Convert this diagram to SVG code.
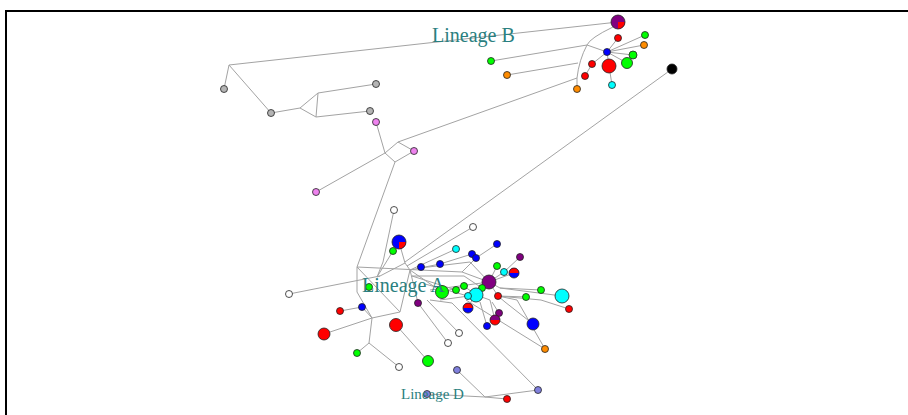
<svg xmlns="http://www.w3.org/2000/svg" width="908" height="415" viewBox="0 0 908 415">
  <style>
    .edge { stroke: #a3a3a3; stroke-width: 1; fill: none; }
    .nd { stroke: #222; stroke-width: 0.8; }
    .ring { fill: none; stroke: #222; stroke-width: 0.8; }
    .lbl { font-family: "Liberation Serif", "DejaVu Serif", serif; fill: #2b7f80; }
    .red { fill: #ff0000; } .grn { fill: #00ff00; } .blu { fill: #0000ff; }
    .cyn { fill: #00ffff; } .pur { fill: #800080; } .org { fill: #ff8c00; }
    .gry { fill: #b4b4b4; } .pnk { fill: #ee82ee; } .lav { fill: #8080dd; }
    .wht { fill: #ffffff; } .blk { fill: #000000; }
  </style>
  <rect width="908" height="415" fill="#ffffff"/>
  <!-- frame -->
  <path d="M6,415 V11 H908" fill="none" stroke="#000" stroke-width="2"/>

  <g id="connectors">
    <!-- lineage B -->
    <path class="edge" d="M618,22 L229,65"/>
    <path class="edge" d="M613,27 Q590,38 587,45 Q579,60 577,78 L577,89"/>
    <path class="edge" d="M491,61 L587,45 L607,52"/>
    <path class="edge" d="M507,75 L578,63"/>
    <path class="edge" d="M607,52 L618,38 M607,52 L645,35 M607,52 L644,45 M607,52 L633,55 M607,52 L627,63 M607,52 L609,66 M607,52 L592,64 L585,76 M609,66 L612,85"/>
    <!-- grey group -->
    <path class="edge" d="M229,65 L224,89 M229,65 L271,113 L300,108 L318,93 L376,84 M300,108 L316,117 L370,111 M318,93 L316,117"/>
    <!-- pink group -->
    <path class="edge" d="M376,122 L385,153 L316,192 M385,153 L398,142 L414,151 L395,162 L385,153 M398,142 L577,78"/>
    <!-- trunk to lineage A -->
    <path class="edge" d="M395,162 L357,267 L357,292 L372,318"/>
    <path class="edge" d="M394,210 L383,262 L377,277"/>
    <path class="edge" d="M672,69 L405,262"/>
    <path class="edge" d="M473,227 L407,266"/>
    <!-- lineage A tangle -->
    <path class="edge" d="M357,267 L462,272 L489,282"/>
    <path class="edge" d="M357,267 L400,312 L372,318"/>
    <path class="edge" d="M289,294 L380,276 L377,277 L393,251"/>
    <path class="edge" d="M380,276 L405,263 L399,242"/>
    <path class="edge" d="M405,263 L410,270 L440,264 M410,270 L456,249 M410,270 L400,312 M410,270 L418,303 M410,270 L442,292"/>
    <path class="edge" d="M412,276 L464,276 L482,288 L489,282 M412,276 L456,290"/>
    <path class="edge" d="M362,307 L340,311 M362,307 L372,318 L324,334 M372,318 L369,343 L357,353 M369,343 L399,367"/>
    <path class="edge" d="M396,325 L428,361"/>
    <path class="edge" d="M418,303 L448,343 M427,300 L459,333 M430,300 L452,303 L538,390"/>
    <path class="edge" d="M457,370 L485,397 L507,399 M485,397 L538,390 M427,394 L485,397"/>
    <path class="edge" d="M545,349 L517,300 L498,296"/>
    <path class="edge" d="M497,244 L476,258 L472,254 L440,264 M476,258 L462,272"/>
    <path class="edge" d="M520,257 L504,272 L489,282 M514,273 L489,282 M497,266 L489,282"/>
    <path class="edge" d="M562,296 L500,288 L489,282 M541,290 L500,288 M526,297 L498,296 M569,309 L541,300 L498,296"/>
    <path class="edge" d="M533,324 L505,302 L498,296 L489,282 M487,326 L480,302 M495,320 L490,300 L476,295 M499,313 L492,302"/>
    <path class="edge" d="M468,308 L472,300 L476,295 L464,286 L442,292 M468,296 L476,295 M476,295 L489,282"/>
    <path class="edge" d="M420,268 L470,262 L489,282 M430,290 L489,282 M440,300 L476,295 M425,284 L468,296"/>
    <path class="edge" d="M466,300 L545,349"/>
  </g>

  <!-- lineage B nodes -->
  <g id="b1">
    <circle cx="618" cy="22" r="7" class="pur"/>
    <path d="M618,22 L625,22 A7,7 0 0 1 618,29 Z" class="red"/>
    <circle cx="618" cy="22" r="7" class="ring"/>
  </g>
  <g id="b2"><circle cx="618" cy="38" r="3.5" class="nd red"/></g>
  <g id="b3"><circle cx="645" cy="35" r="3.5" class="nd grn"/></g>
  <g id="b4"><circle cx="644" cy="45" r="3.5" class="nd org"/></g>
  <g id="b5"><circle cx="607" cy="52" r="3.5" class="nd blu"/></g>
  <g id="b6"><circle cx="633" cy="55" r="4" class="nd grn"/></g>
  <g id="b7"><circle cx="627" cy="63" r="5.5" class="nd grn"/></g>
  <g id="b8"><circle cx="609" cy="66" r="7" class="nd red"/></g>
  <g id="b9"><circle cx="592" cy="64" r="3.5" class="nd red"/></g>
  <g id="b10"><circle cx="585" cy="76" r="3.5" class="nd red"/></g>
  <g id="b11"><circle cx="612" cy="85" r="3.5" class="nd cyn"/></g>
  <g id="b12"><circle cx="577" cy="89" r="3.5" class="nd org"/></g>
  <g id="b13"><circle cx="491" cy="61" r="3.5" class="nd grn"/></g>
  <g id="b14"><circle cx="507" cy="75" r="3.5" class="nd org"/></g>
  <g id="x1"><circle cx="672" cy="69" r="5" class="nd blk"/></g>

  <!-- grey and pink groups -->
  <g id="g1"><circle cx="224" cy="89" r="3.5" class="nd gry"/></g>
  <g id="g2"><circle cx="271" cy="113" r="3.5" class="nd gry"/></g>
  <g id="g3"><circle cx="376" cy="84" r="3.5" class="nd gry"/></g>
  <g id="g4"><circle cx="370" cy="111" r="3.5" class="nd gry"/></g>
  <g id="p1"><circle cx="376" cy="122" r="3.5" class="nd pnk"/></g>
  <g id="p2"><circle cx="414" cy="151" r="3.5" class="nd pnk"/></g>
  <g id="p3"><circle cx="316" cy="192" r="3.5" class="nd pnk"/></g>

  <!-- lineage A nodes -->
  <g id="a1"><circle cx="394" cy="210" r="3.5" class="nd wht"/></g>
  <g id="a2">
    <circle cx="399" cy="242" r="7" class="blu"/>
    <path d="M399,242 L406,242 A7,7 0 0 1 399,249 Z" class="red"/>
    <circle cx="399" cy="242" r="7" class="ring"/>
  </g>
  <g id="a3"><circle cx="393" cy="251" r="3.5" class="nd grn"/></g>
  <g id="a4"><circle cx="473" cy="227" r="3.5" class="nd wht"/></g>
  <g id="a5"><circle cx="456" cy="249" r="3.5" class="nd cyn"/></g>
  <g id="a6"><circle cx="497" cy="244" r="3.5" class="nd blu"/></g>
  <g id="a7"><circle cx="472" cy="254" r="3.5" class="nd blu"/></g>
  <g id="a8"><circle cx="476" cy="258" r="3.5" class="nd blu"/></g>
  <g id="a9"><circle cx="440" cy="264" r="3.5" class="nd blu"/></g>
  <g id="a10"><circle cx="421" cy="267" r="3.5" class="nd blu"/></g>
  <g id="a11"><circle cx="520" cy="257" r="3.5" class="nd pur"/></g>
  <g id="a12"><circle cx="497" cy="266" r="3.5" class="nd grn"/></g>
  <g id="a13"><circle cx="504" cy="272" r="3.5" class="nd cyn"/></g>
  <g id="a14">
    <circle cx="514" cy="273" r="5" class="blu"/>
    <path d="M509,273 A5,5 0 0 1 519,273 Z" class="red"/>
    <circle cx="514" cy="273" r="5" class="ring"/>
  </g>
  <g id="a15"><circle cx="489" cy="282" r="7" class="nd pur"/></g>
  <g id="a16"><circle cx="369" cy="287" r="3.5" class="nd grn"/></g>
  <g id="a17"><circle cx="289" cy="294" r="3.5" class="nd wht"/></g>
  <g id="a18"><circle cx="464" cy="286" r="3.5" class="nd grn"/></g>
  <g id="a19"><circle cx="456" cy="290" r="3.5" class="nd grn"/></g>
  <g id="a20"><circle cx="442" cy="292" r="6.5" class="nd grn"/></g>
  <g id="a21"><circle cx="482" cy="288" r="3.5" class="nd grn"/></g>
  <g id="a22"><circle cx="476" cy="295" r="7" class="nd cyn"/></g>
  <g id="a23"><circle cx="468" cy="296" r="3.5" class="nd cyn"/></g>
  <g id="a24"><circle cx="498" cy="296" r="3.5" class="nd red"/></g>
  <g id="a25"><circle cx="541" cy="290" r="3.5" class="nd grn"/></g>
  <g id="a26"><circle cx="526" cy="297" r="3.5" class="nd grn"/></g>
  <g id="a27"><circle cx="562" cy="296" r="7" class="nd cyn"/></g>
  <g id="a28"><circle cx="569" cy="309" r="3.5" class="nd red"/></g>
  <g id="a29"><circle cx="418" cy="303" r="3.5" class="nd pur"/></g>
  <g id="a30">
    <circle cx="468" cy="308" r="5" class="blu"/>
    <path d="M463,308 A5,5 0 0 1 473,308 Z" class="red"/>
    <circle cx="468" cy="308" r="5" class="ring"/>
  </g>
  <g id="a31"><circle cx="499" cy="313" r="3.5" class="nd pur"/></g>
  <g id="a32">
    <circle cx="495" cy="320" r="5" class="red"/>
    <path d="M490,320 A5,5 0 0 1 500,320 Z" class="pur"/>
    <circle cx="495" cy="320" r="5" class="ring"/>
  </g>
  <g id="a33"><circle cx="487" cy="326" r="3.5" class="nd blu"/></g>
  <g id="a34"><circle cx="533" cy="324" r="6" class="nd blu"/></g>
  <g id="a35"><circle cx="362" cy="307" r="3.5" class="nd blu"/></g>
  <g id="a36"><circle cx="340" cy="311" r="3.5" class="nd red"/></g>
  <g id="a37"><circle cx="324" cy="334" r="6" class="nd red"/></g>
  <g id="a38"><circle cx="396" cy="325" r="6.5" class="nd red"/></g>
  <g id="a39"><circle cx="459" cy="333" r="3.5" class="nd wht"/></g>
  <g id="a40"><circle cx="448" cy="343" r="3.5" class="nd wht"/></g>
  <g id="a41"><circle cx="545" cy="349" r="3.5" class="nd org"/></g>
  <g id="a42"><circle cx="357" cy="353" r="3.5" class="nd grn"/></g>
  <g id="a43"><circle cx="428" cy="361" r="5.5" class="nd grn"/></g>
  <g id="a44"><circle cx="399" cy="367" r="3.5" class="nd wht"/></g>

  <!-- lineage D nodes -->
  <g id="d1"><circle cx="457" cy="370" r="3.5" class="nd lav"/></g>
  <g id="d2"><circle cx="538" cy="390" r="3.5" class="nd lav"/></g>
  <g id="d3"><circle cx="427" cy="394" r="3.5" class="nd lav"/></g>
  <g id="d4"><circle cx="507" cy="399" r="3.5" class="nd red"/></g>

  <!-- lineage labels -->
  <g id="labels">
    <text class="lbl" x="432" y="42" font-size="20">Lineage B</text>
    <text class="lbl" x="362" y="292" font-size="20">Lineage A</text>
    <text class="lbl" x="401" y="399" font-size="15">Lineage D</text>
  </g>
</svg>
